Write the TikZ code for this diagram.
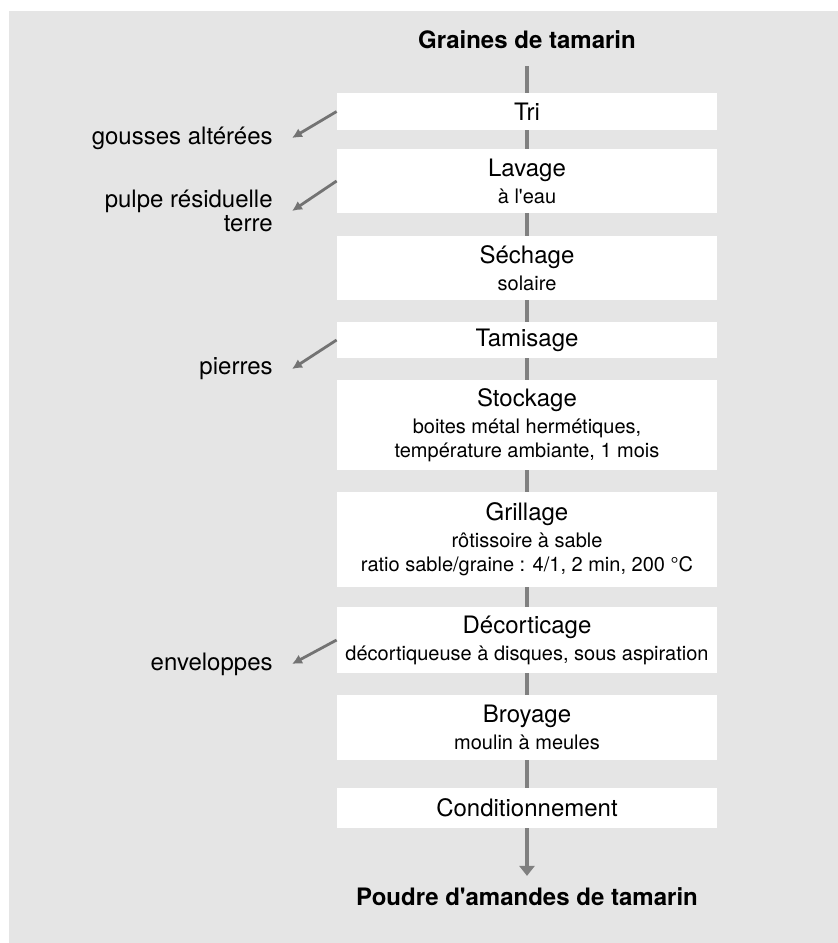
\documentclass[tikz,border=0pt]{standalone}
\usepackage{fontspec}
\setmainfont{TeX Gyre Heros}
\usetikzlibrary{arrows.meta}

\begin{document}
\begin{tikzpicture}[x=0.5pt,y=-0.5pt]
  \tikzset{stage/.style = {fill=white, minimum width=190pt, align=center, inner sep=0pt, font=\fontsize{12}{14}\selectfont}}
  \tikzset{loss/.style = {anchor=east, align=right, inner xsep=9.5pt, inner ysep=0pt, font=\fontsize{12}{12}\selectfont}}
  \tikzset{product/.style = {font=\bfseries\fontsize{12}{14}\selectfont}}
  \tikzset{flow/.style = {draw=black!50, line width=2pt}}
  \tikzset{waste/.style = {draw=black!55, line width=1.4pt, -{Latex[length=5pt,width=5pt]}}}

  \def\colx{527}
  \def\subtext#1{{\fontsize{10}{12}\selectfont #1}}

  % frame
  \useasboundingbox (0,0) rectangle (838,943);
  \fill[black!10] (9,11) rectangle (838,943);

  % input and output
  \node[product] (seed) at (\colx,40) {Graines de tamarin};
  \node[product] (powder) at (\colx,897) {Poudre d\textquotesingle amandes de tamarin};

  % process steps
  \node[stage, minimum height=18.5pt] (tri) at (\colx,111.5) {Tri};
  \node[stage, minimum height=32pt] (lavage) at (\colx,181) {Lavage\\[-0.5pt]\subtext{à l\textquotesingle eau}};
  \node[stage, minimum height=32pt] (sechage) at (\colx,268) {Séchage\\[-0.5pt]\subtext{solaire}};
  \node[stage, minimum height=18pt] (tamisage) at (\colx,340) {Tamisage};
  \node[stage, minimum height=45pt] (stockage) at (\colx,425) {Stockage\\[-0.5pt]\subtext{boites métal hermétiques,}\\[-2pt]\subtext{température ambiante, 1 mois}};
  \node[stage, minimum height=47.5pt] (grillage) at (\colx,539.5) {Grillage\\[-0.5pt]\subtext{rôtissoire à sable}\\[-2pt]\subtext{ratio sable/graine : 4/1, 2 min, 200 °C}};
  \node[stage, minimum height=33pt] (decort) at (\colx,640) {Décorticage\\[-0.5pt]\subtext{décortiqueuse à disques, sous aspiration}};
  \node[stage, minimum height=32.5pt] (broyage) at (\colx,727.5) {Broyage\\[-0.5pt]\subtext{moulin à meules}};
  \node[stage, minimum height=20pt] (condit) at (\colx,808) {Conditionnement};

  % removed fractions
  \node[loss] (gousses) at (292,138) {gousses altérées};
  \node[loss] (pulpe) at (292,211) {pulpe résiduelle\\terre};
  \node[loss] (pierres) at (292,369) {pierres};
  \node[loss] (enveloppes) at (292,664) {enveloppes};

  % main flow
  \draw[flow, shorten <=5pt] (seed) -- (tri);
  \foreach \a/\b in {tri/lavage, lavage/sechage, sechage/tamisage, tamisage/stockage, stockage/grillage, grillage/decort, decort/broyage, broyage/condit}
    \draw[flow] (\a) -- (\b);
  \draw[flow, -{Triangle[length=5pt,width=7.5pt]}, shorten >=2.5pt] (condit) -- (powder);

  % side outputs
  \foreach \a/\b in {tri/gousses, lavage/pulpe, tamisage/pierres, decort/enveloppes}
    \draw[waste] (\a.west) -- (\b.east);
\end{tikzpicture}
\end{document}
